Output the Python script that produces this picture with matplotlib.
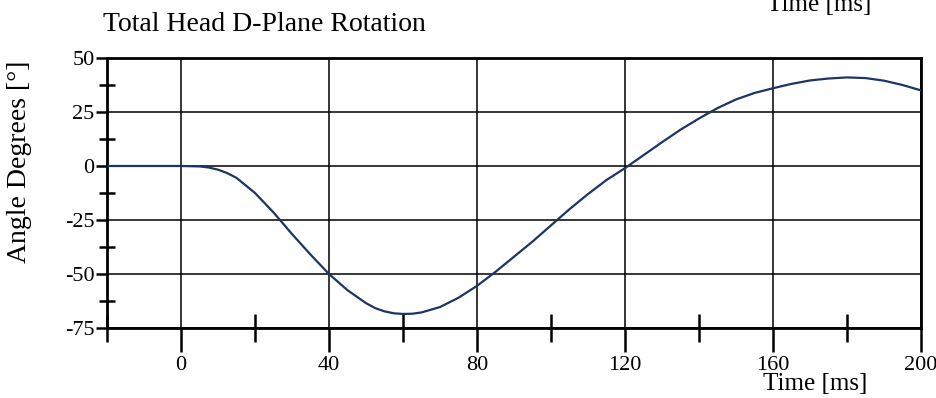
import numpy as np
import matplotlib
matplotlib.use("Agg")
import matplotlib.pyplot as plt
from matplotlib.ticker import MultipleLocator

plt.rcParams['font.family'] = ['Liberation Serif', 'DejaVu Serif']
plt.rcParams['axes.unicode_minus'] = False

# Head rotation curve
time_ms = [-20, -10, 0, 5, 7.5, 10, 12.5, 15, 20, 25, 30, 35, 40, 45, 50, 52.5,
           55, 57.5, 60, 62.5, 65, 70, 75, 80, 85, 90, 95, 100, 105, 110, 115,
           120, 125, 130, 135, 140, 145, 150, 155, 160, 165, 170, 175, 180, 185,
           190, 195, 200]
angle_deg = [0, 0, 0, -0.2, -0.7, -1.7, -3.3, -5.5, -12.5, -21.5, -31.5, -41,
             -50, -57.5, -63.5, -65.8, -67.3, -68.2, -68.5, -68.4, -67.8, -65.3,
             -61, -55.5, -49, -42, -35, -27.5, -20, -13, -6.5, -1, 5, 11, 16.8,
             22, 26.8, 30.8, 33.8, 36, 38, 39.6, 40.5, 41, 40.7, 39.5, 37.5, 35]
x_ticks = [0, 40, 80, 120, 160, 200]
y_ticks = [50, 25, 0, -25, -50, -75]

fig = plt.figure(figsize=(9.37, 3.98), dpi=100)
ax = fig.add_axes([0.1142, 0.1759, 0.8687, 0.6784])

ax.plot(time_ms, angle_deg, color='#1c3566', lw=1.6, zorder=3)

ax.set_xlim(-20, 200)
ax.set_ylim(-75, 50)
ax.set_xticks(x_ticks)
ax.set_yticks(y_ticks)
ax.xaxis.set_minor_locator(MultipleLocator(20))
ax.yaxis.set_minor_locator(MultipleLocator(12.5))
ax.grid(True, which='major', color='black', lw=1.1)

for s in ax.spines.values():
    s.set_linewidth(2)

ax.tick_params(axis='x', which='major', direction='out', length=17, width=1.8,
               labelsize=16, pad=3)
ax.tick_params(axis='x', which='minor', direction='inout', length=20, width=1.8)
ax.tick_params(axis='y', which='major', direction='out', length=8, width=1.8,
               labelsize=16, pad=1)
ax.tick_params(axis='y', which='minor', direction='inout', length=12, width=1.8)

ax.set_ylabel('Angle Degrees [°]', fontsize=20)
ax.yaxis.set_label_coords(-0.092, 0.615)
ax.set_xlabel('Time [ms]', fontsize=18, labelpad=0)
ax.xaxis.set_label_coords(0.87, -0.165)

fig.text(0.11, 1 - 31 / 398, 'Total Head D-Plane Rotation', fontsize=20,
         ha='left', va='baseline')
# clipped axis label of the chart above this one
fig.text(0.874, 1 - 11 / 398, 'Time [ms]', fontsize=18, ha='center',
         va='baseline')

fig.savefig('out.png', dpi=100)
